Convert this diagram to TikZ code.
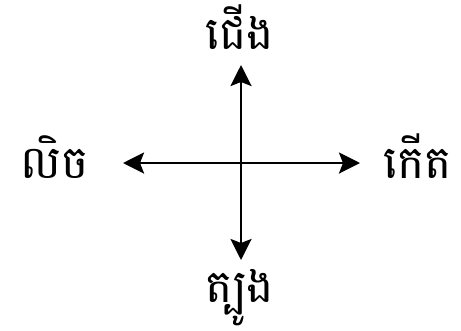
\documentclass[tikz,border=0pt]{standalone}
\usepackage{fontspec}
\usetikzlibrary{arrows.meta}
\newfontfamily\khmerfont[Script=Khmer]{Battambang}
\begin{document}
\begin{tikzpicture}[font=\khmerfont\fontsize{26}{30}\selectfont]
  \tikzset{dir/.style={text=black,inner sep=0pt},
    axis/.style={line width=1.6pt,-{Stealth[length=0.42cm,width=0.42cm,inset=0.08cm]}}}
  \useasboundingbox (0,0) rectangle (9.22,6.60);
  % centre and arrow tips
  \coordinate (c) at (4.82,3.34);
  \coordinate (n) at (4.82,5.30);
  \coordinate (s) at (4.82,1.40);
  \coordinate (w) at (2.46,3.34);
  \coordinate (e) at (7.20,3.34);
  \draw[axis] (c) -- (n);
  \draw[axis] (c) -- (s);
  \draw[axis] (c) -- (w);
  \draw[axis] (c) -- (e);

  \node[dir] (north) at (4.80,6.06) {ជើង};
  \node[dir] (east) at (8.36,3.48) {កើត};
  \node[dir] (west) at (1.10,3.46) {លិច};
  \node[dir] (south) at (4.80,0.64) {ត្បូង};
\end{tikzpicture}
\end{document}
